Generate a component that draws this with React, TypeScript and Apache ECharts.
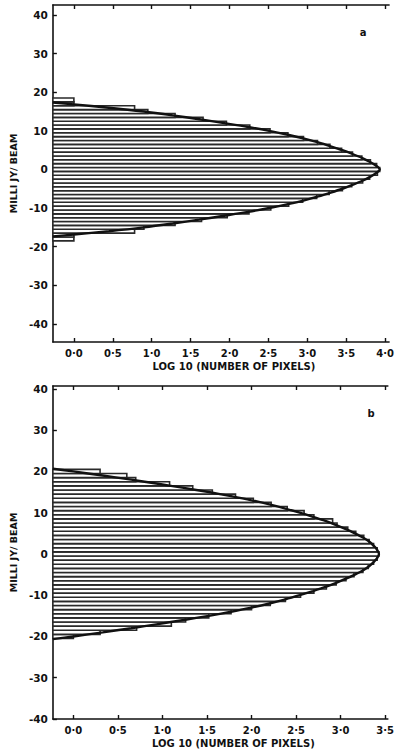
import React, { useEffect, useRef } from "react";
import * as echarts from "echarts";

// ---------- Panel a ----------
const A_BINS = [-18, -17, -16, -15, -14, -13, -12, -11, -10, -9, -8, -7, -6, -5, -4, -3, -2, -1, 0, 1, 2, 3, 4, 5, 6, 7, 8, 9, 10, 11, 12, 13, 14, 15, 16, 17, 18];
const A_LOG_COUNTS = [0.0, 0.0, 0.78, 0.9, 1.3, 1.64, 1.97, 2.25, 2.53, 2.76, 2.94, 3.12, 3.28, 3.45, 3.57, 3.71, 3.8, 3.9, 3.93, 3.89, 3.81, 3.7, 3.58, 3.44, 3.29, 3.13, 2.95, 2.75, 2.52, 2.26, 1.96, 1.66, 1.3, 0.95, 0.78, 0.0, 0.0];
const A_CURVE_Y = [-17.35, -16.85, -16, -15, -14, -13, -12, -11, -10, -9, -8, -7, -6, -5, -4, -3, -2, -1, 0, 1, 2, 3, 4, 5, 6, 7, 8, 9, 10, 11, 12, 13, 14, 15, 16, 16.85, 17.35];
const A_CURVE_X = [-0.27, 0.0, 0.45, 0.9, 1.27, 1.61, 1.93, 2.24, 2.51, 2.75, 2.96, 3.14, 3.3, 3.45, 3.58, 3.7, 3.8, 3.88, 3.93, 3.88, 3.8, 3.7, 3.58, 3.45, 3.3, 3.14, 2.96, 2.75, 2.51, 2.24, 1.93, 1.61, 1.27, 0.9, 0.45, 0.0, -0.27];
const A_X_TICKS = [0, 0.5, 1, 1.5, 2, 2.5, 3, 3.5, 4];

// ---------- Panel b ----------
const B_BINS = [-20, -19, -18, -17, -16, -15, -14, -13, -12, -11, -10, -9, -8, -7, -6, -5, -4, -3, -2, -1, 0, 1, 2, 3, 4, 5, 6, 7, 8, 9, 10, 11, 12, 13, 14, 15, 16, 17, 18, 19, 20];
const B_LOG_COUNTS = [0.0, 0.3, 0.71, 1.1, 1.26, 1.52, 1.77, 2.0, 2.21, 2.38, 2.55, 2.7, 2.84, 2.95, 3.06, 3.15, 3.25, 3.31, 3.37, 3.41, 3.43, 3.41, 3.37, 3.32, 3.26, 3.17, 3.08, 2.96, 2.91, 2.7, 2.59, 2.4, 2.22, 2.02, 1.82, 1.56, 1.34, 1.08, 0.7, 0.6, 0.3];
const B_CURVE_Y = [-20.65, -20, -19, -18, -17, -16, -15, -14, -13, -12, -11, -10, -9, -8, -7, -6, -5, -4, -3, -2, -1, 0, 1, 2, 3, 4, 5, 6, 7, 8, 9, 10, 11, 12, 13, 14, 15, 16, 17, 18, 19, 20, 20.65];
const B_CURVE_X = [-0.23, 0.0, 0.33, 0.65, 0.95, 1.24, 1.52, 1.77, 2.0, 2.2, 2.38, 2.54, 2.69, 2.83, 2.95, 3.06, 3.16, 3.25, 3.32, 3.37, 3.41, 3.43, 3.41, 3.37, 3.32, 3.25, 3.16, 3.06, 2.95, 2.83, 2.69, 2.54, 2.38, 2.2, 2.0, 1.77, 1.52, 1.24, 0.95, 0.65, 0.33, 0.0, -0.23];
const B_X_TICKS = [0, 0.5, 1, 1.5, 2, 2.5, 3, 3.5];

const Y_TICKS = [-40, -30, -20, -10, 0, 10, 20, 30, 40];

const X_NAME = "LOG 10 (NUMBER OF PIXELS)";
const Y_NAME = "MILLI JY/ BEAM";
const PANEL_LABELS = ["a", "b"];

const FONT = "DejaVu Sans";
const INK = "#111";

const fmtX = (v: number) => v.toFixed(1).replace(".", "\u00B7");

function xAxisPair(grid: number, min: number, max: number, ticks: number[]) {
  const common = {
    type: "value",
    gridIndex: grid,
    min,
    max,
    splitLine: { show: false },
    axisLine: { show: true, onZero: false, lineStyle: { color: INK, width: 1.6 } },
    axisTick: { show: true, inside: true, length: 4, customValues: ticks, lineStyle: { color: INK, width: 1.4 } },
  };
  return [
    {
      ...common,
      position: "bottom",
      axisLabel: {
        show: true,
        customValues: ticks,
        formatter: (v: number) => fmtX(v),
        color: INK,
        fontFamily: FONT,
        fontWeight: "bold",
        fontSize: 10,
        margin: 6,
      },
      name: X_NAME,
      nameLocation: "middle",
      nameGap: 19,
      nameTextStyle: {
        color: INK,
        fontFamily: FONT,
        fontWeight: "bold",
        fontSize: 10,
        padding: [0, 0, 0, 26],
      },
    },
    { ...common, position: "top", axisLabel: { show: false } },
  ];
}

function yAxisFor(grid: number, min: number, max: number) {
  return {
    type: "value",
    gridIndex: grid,
    min,
    max,
    position: "left",
    splitLine: { show: false },
    axisLine: { show: true, onZero: false, lineStyle: { color: INK, width: 1.6 } },
    axisTick: { show: true, inside: true, length: 4, customValues: Y_TICKS, lineStyle: { color: INK, width: 1.4 } },
    axisLabel: {
      show: true,
      customValues: Y_TICKS,
      formatter: (v: number) => String(v),
      color: INK,
      fontFamily: FONT,
      fontWeight: "bold",
      fontSize: 10.5,
      margin: 5,
    },
    name: Y_NAME,
    nameLocation: "middle",
    nameRotate: 90,
    nameGap: 29,
    nameTextStyle: { color: INK, fontFamily: FONT, fontWeight: "bold", fontSize: 9.5 },
  };
}

function barSeries(xIdx: number, yIdx: number, xMin: number, bins: number[], vals: number[]) {
  return {
    type: "custom",
    xAxisIndex: xIdx,
    yAxisIndex: yIdx,
    clip: true,
    z: 2,
    data: bins.map((b, i) => [vals[i], b]),
    renderItem: (_p: any, api: any) => {
      const v = api.value(0);
      const y = api.value(1);
      const p0 = api.coord([xMin, y + 0.5]);
      const p1 = api.coord([v, y - 0.5]);
      return {
        type: "rect",
        shape: { x: p0[0], y: p0[1], width: p1[0] - p0[0], height: p1[1] - p0[1] },
        style: { fill: "#fff", stroke: "#2a2a2a", lineWidth: 1.6 },
      };
    },
  };
}

function curveSeries(xIdx: number, yIdx: number, xs: number[], ys: number[]) {
  return {
    type: "line",
    xAxisIndex: xIdx,
    yAxisIndex: yIdx,
    z: 3,
    smooth: 0.3,
    symbol: "none",
    clip: true,
    lineStyle: { color: INK, width: 2.4 },
    data: xs.map((x, i) => [x, ys[i]]),
  };
}

export default function App() {
  const ref = useRef<HTMLDivElement>(null);
  useEffect(() => {
    if (!ref.current) return;
    const chart = echarts.init(ref.current, null, { renderer: "svg" });
    const aXMin = -0.27;
    const bXMin = -0.23;
    chart.setOption({
      animation: false,
      backgroundColor: "#fff",
      grid: [
        { left: 49, top: 5, width: 349.5, height: 337 },
        { left: 50, top: 386, width: 347, height: 333 },
      ],
      xAxis: [...xAxisPair(0, aXMin, 4.05, A_X_TICKS), ...xAxisPair(1, bXMin, 3.53, B_X_TICKS)],
      yAxis: [yAxisFor(0, -44.7, 42.6), yAxisFor(1, -40, 40.7)],
      graphic: [
        {
          type: "text",
          x: 363,
          y: 32,
          style: { text: PANEL_LABELS[0], fill: INK, font: `bold 10px "${FONT}"`, textAlign: "center", textVerticalAlign: "middle" },
        },
        {
          type: "text",
          x: 371,
          y: 413,
          style: { text: PANEL_LABELS[1], fill: INK, font: `bold 10px "${FONT}"`, textAlign: "center", textVerticalAlign: "middle" },
        },
      ],
      series: [
        barSeries(0, 0, aXMin, A_BINS, A_LOG_COUNTS),
        curveSeries(0, 0, A_CURVE_X, A_CURVE_Y),
        barSeries(2, 1, bXMin, B_BINS, B_LOG_COUNTS),
        curveSeries(2, 1, B_CURVE_X, B_CURVE_Y),
      ],
    });
    return () => chart.dispose();
  }, []);
  return (
    <div
      ref={ref}
      style={{ position: "absolute", left: 0, top: 0, width: 397, height: 756, background: "#fff" }}
    />
  );
}
